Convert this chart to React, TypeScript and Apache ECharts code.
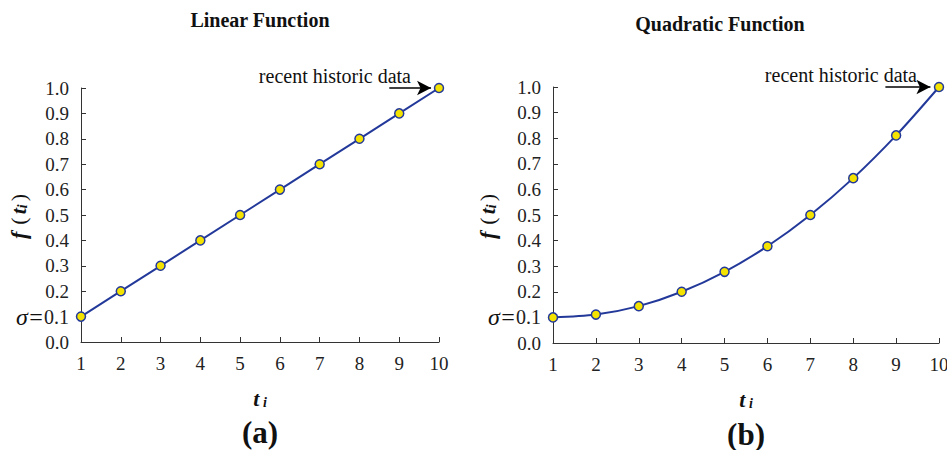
import React, { useEffect, useRef } from "react";
import * as echarts from "echarts";

const tValues = [1, 2, 3, 4, 5, 6, 7, 8, 9, 10];
const linearValues = [0.1, 0.2, 0.3, 0.4, 0.5, 0.6, 0.7, 0.8, 0.9, 1.0];
const quadraticValues = [0.1, 0.111, 0.144, 0.2, 0.278, 0.378, 0.5, 0.644, 0.811, 1.0];
const titles = ["Linear Function", "Quadratic Function"];
const panelLabels = ["(a)", "(b)"];
const annotationText = "recent historic data";
const arrowStart = 8.75;
const arrowEnd = 9.8;

const FONT = "Liberation Serif";
const LINE = "#23399a";

function yAxis(gridIndex: number, nameGap: number) {
  return {
    type: "value",
    gridIndex,
    min: 0,
    max: 1,
    interval: 0.1,
    name: "{f|f}{p|(}{t|t}{s|i}{p|)}",
    nameLocation: "middle",
    nameGap,
    nameMoveOverlap: false,
    nameRotate: 90,
    nameTextStyle: {
      rich: {
        f: { fontFamily: FONT, fontSize: 22, fontStyle: "italic", fontWeight: "bold", color: "#111", padding: [0, 4, 0, 0] },
        p: { fontFamily: FONT, fontSize: 22, color: "#111", padding: [0, 3, 0, 3] },
        t: { fontFamily: FONT, fontSize: 22, fontStyle: "italic", fontWeight: "bold", color: "#111" },
        s: { fontFamily: FONT, fontSize: 14, fontStyle: "italic", fontWeight: "bold", color: "#111", verticalAlign: "bottom", padding: [6, 0, 0, 0] },
      },
    },
    axisLine: { show: true, lineStyle: { color: "#333", width: 1 } },
    axisTick: { show: true, inside: true, length: 5, lineStyle: { color: "#333" } },
    splitLine: { show: false },
    axisLabel: {
      margin: 12,
      fontFamily: FONT,
      fontSize: 19,
      color: "#222",
      formatter: (v: number) => {
        const s = v.toFixed(1);
        return Math.abs(v - 0.1) < 1e-6 ? "{sg|σ=}{b|" + s + "}" : s;
      },
      rich: {
        sg: { fontFamily: FONT, fontSize: 24, fontStyle: "italic", color: "#111" },
        b: { fontFamily: FONT, fontSize: 20, color: "#222" },
      },
    },
  };
}

function xAxis(gridIndex: number) {
  return {
    type: "value",
    gridIndex,
    min: 1,
    max: 10,
    interval: 1,
    name: "{t|t}{s| i}",
    nameLocation: "middle",
    nameGap: 45,
    nameMoveOverlap: false,
    nameTextStyle: {
      rich: {
        t: { fontFamily: FONT, fontSize: 22, fontStyle: "italic", fontWeight: "bold", color: "#111" },
        s: { fontFamily: FONT, fontSize: 14, fontStyle: "italic", fontWeight: "bold", color: "#111", padding: [8, 0, 0, 0] },
      },
    },
    axisLine: { show: true, onZero: false, lineStyle: { color: "#333", width: 1 } },
    axisTick: { show: true, inside: true, length: 5, lineStyle: { color: "#333" } },
    splitLine: { show: false },
    axisLabel: { margin: 12, fontFamily: FONT, fontSize: 19, color: "#222" },
  };
}

function series(idx: number, values: number[]) {
  return {
    type: "line",
    xAxisIndex: idx,
    yAxisIndex: idx,
    data: tValues.map((t, i) => [t, values[i]]),
    smooth: idx === 1 ? 0.3 : false,
    symbol: "circle",
    symbolSize: 9,
    lineStyle: { color: LINE, width: 2 },
    itemStyle: { color: "#f4e200", borderColor: LINE, borderWidth: 1.5 },
    z: 3,
    markLine: {
      silent: true,
      symbol: ["none", "arrow"],
      symbolSize: [11, 14],
      lineStyle: { color: "#000", width: 1.5, type: "solid" },
      label: { show: false },
      data: [[{ coord: [arrowStart, 1.0] }, { coord: [arrowEnd, 1.0] }]],
    },
  };
}

export default function App() {
  const ref = useRef<HTMLDivElement>(null);
  useEffect(() => {
    if (!ref.current) return;
    const chart = echarts.init(ref.current, null, { renderer: "svg" });
    chart.setOption({
      animation: false,
      backgroundColor: "#fff",
      textStyle: { fontFamily: FONT },
      grid: [
        { left: 81, top: 88, width: 358, height: 254, outerBoundsMode: "none", containLabel: false },
        { left: 553, top: 87, width: 386, height: 256, outerBoundsMode: "none", containLabel: false },
      ],
      xAxis: [xAxis(0), xAxis(1)],
      yAxis: [yAxis(0, 52), yAxis(1, 55)],
      series: [series(0, linearValues), series(1, quadraticValues)],
      graphic: [
        { type: "text", x: 260, y: 20, style: { text: titles[0], fontFamily: FONT, fontSize: 20, fontWeight: "bold", fill: "#111", textAlign: "center", textVerticalAlign: "middle" } },
        { type: "text", x: 720, y: 24, style: { text: titles[1], fontFamily: FONT, fontSize: 20, fontWeight: "bold", fill: "#111", textAlign: "center", textVerticalAlign: "middle" } },
        { type: "text", x: 411, y: 76, style: { text: annotationText, fontFamily: FONT, fontSize: 20, fill: "#111", textAlign: "right", textVerticalAlign: "middle" } },
        { type: "text", x: 917, y: 75, style: { text: annotationText, fontFamily: FONT, fontSize: 20, fill: "#111", textAlign: "right", textVerticalAlign: "middle" } },
        { type: "text", x: 260, y: 432, style: { text: panelLabels[0], fontFamily: FONT, fontSize: 31, fontWeight: "bold", fill: "#111", textAlign: "center", textVerticalAlign: "middle" } },
        { type: "text", x: 746, y: 434, style: { text: panelLabels[1], fontFamily: FONT, fontSize: 31, fontWeight: "bold", fill: "#111", textAlign: "center", textVerticalAlign: "middle" } },
      ],
    });
    return () => chart.dispose();
  }, []);
  return (
    <div
      ref={ref}
      style={{ position: "fixed", left: 0, top: 0, width: 947, height: 450, background: "#fff" }}
    />
  );
}
